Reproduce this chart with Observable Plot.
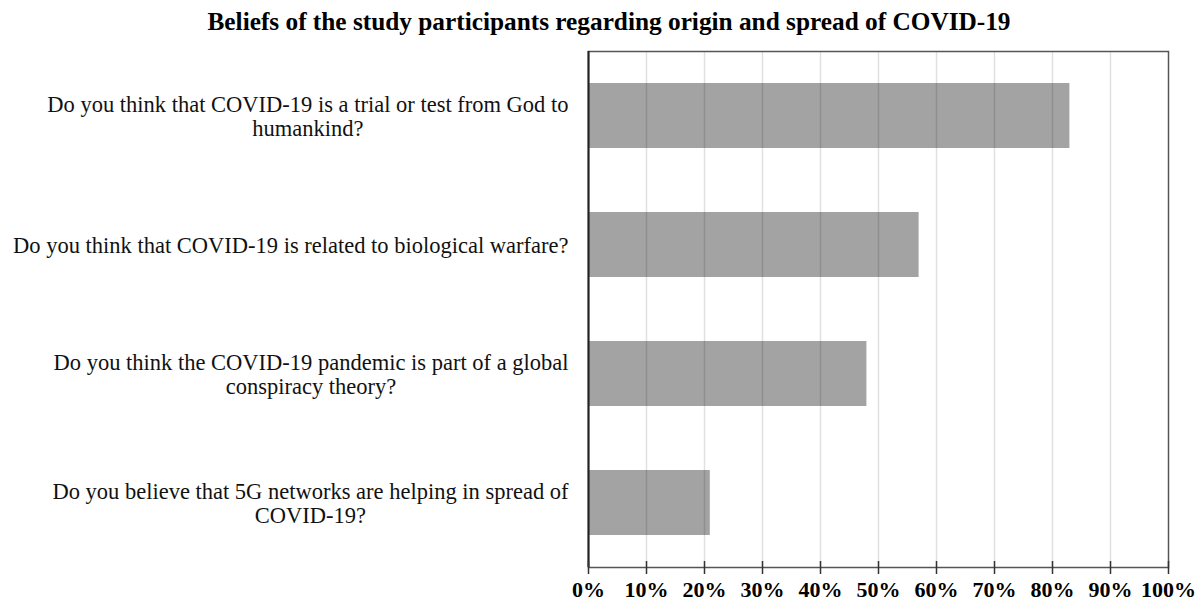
<!DOCTYPE html>
<html>
<head>
<meta charset="utf-8">
<script src="https://cdn.jsdelivr.net/npm/d3@7"></script>
<script src="https://cdn.jsdelivr.net/npm/@observablehq/plot@0.6"></script>
<style>
  html, body { margin: 0; padding: 0; background: #fff; }
  #title {
    box-sizing: border-box; width: 1202px; padding-left: 16px;
    height: 42px; line-height: 42px; text-align: center;
    font-family: "Liberation Serif", "Times New Roman", serif;
    font-weight: bold; font-size: 25.3px; color: #000;
  }
  svg { display: block; }
</style>
</head>
<body>
<div id="title">Beliefs of the study participants regarding origin and spread of COVID-19</div>
<div id="chart"></div>
<script>
const questions = [
  "Do you think that COVID-19 is a trial or test from God to\nhumankind?",
  "Do you think that COVID-19 is related to biological warfare?",
  "Do you think the COVID-19 pandemic is part of a global\nconspiracy theory?",
  "Do you believe that 5G networks are helping in spread of\nCOVID-19?"
];
const percents = [83, 57, 48, 21];
const xTicks = [0, 10, 20, 30, 40, 50, 60, 70, 80, 90, 100];

const data = questions.map((q, i) => ({question: q, value: percents[i]}));

const W = 1202, H = 560;
const mTop = 9, mBottom = 35, mLeft = 588, mRight = 34;
const frameH = H - mTop - mBottom;

const labelFont = "22.5px 'Liberation Serif', 'Times New Roman', serif";
const ctx = document.createElement("canvas").getContext("2d");
ctx.font = labelFont;
const labelWidth = q => Math.max(...q.split("\n").map(s => ctx.measureText(s).width));

const labelMarks = data.map(d => Plot.text([d], {
  x: () => 0,
  y: "question",
  text: "question",
  textAnchor: "middle",
  lineAnchor: "middle",
  lineHeight: 1.11,
  dx: -(20 + labelWidth(d.question) / 2),
  fontSize: 22.5,
  fill: "#111"
}));

const chart = Plot.plot({
  width: W,
  height: H,
  marginTop: mTop,
  marginBottom: mBottom,
  marginLeft: mLeft,
  marginRight: mRight,
  style: {fontFamily: "'Liberation Serif', 'Times New Roman', serif", background: "#fff"},
  x: {domain: [0, 100], label: null},
  y: {domain: questions, paddingInner: 0.5, paddingOuter: 0.25, label: null, axis: null},
  marks: [
    Plot.barX(data, {x: "value", y: "question", fill: "#a3a3a3"}),
    Plot.gridX(xTicks.slice(1, -1), {stroke: "#000", strokeOpacity: 0.12, strokeWidth: 1.5}),
    Plot.frame({stroke: "#555", strokeWidth: 1.5}),
    Plot.ruleX([0], {stroke: "#222", strokeWidth: 2}),
    Plot.ruleX(xTicks, {x: d => d, stroke: "#333", strokeWidth: 1.5, insetTop: frameH - 6, insetBottom: -7}),
    Plot.axisX(xTicks, {
      tickSize: 0, tickPadding: 14, label: null,
      tickFormat: d => d + "%",
      fontSize: 22, fontWeight: "bold", fill: "#000"
    }),
    ...labelMarks
  ]
});
document.getElementById("chart").appendChild(chart);
</script>
</body>
</html>
